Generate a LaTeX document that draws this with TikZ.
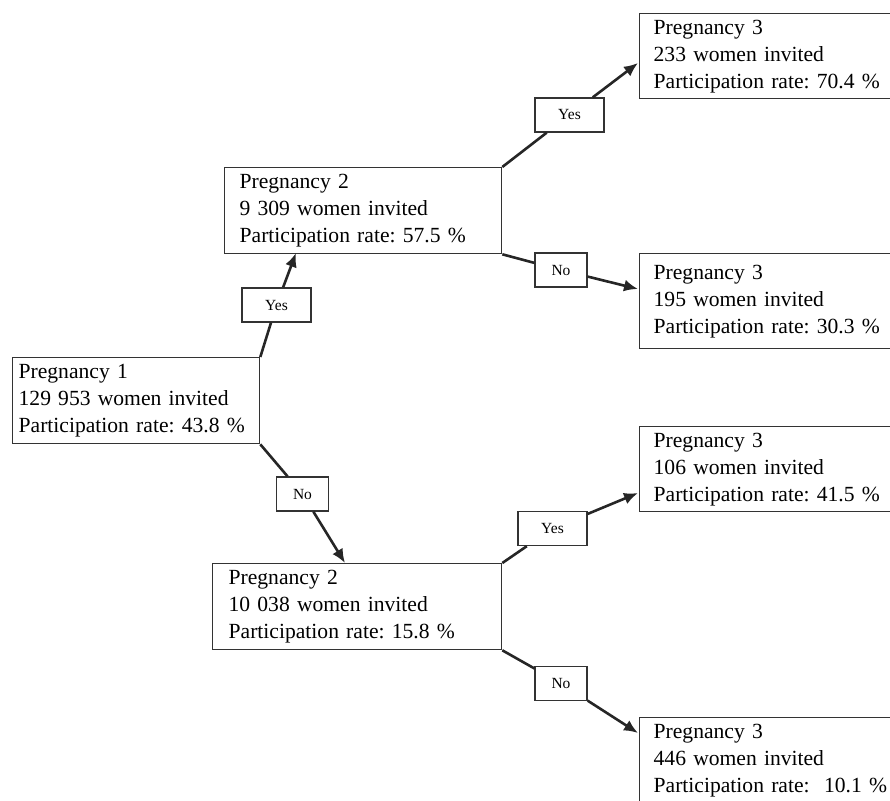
\documentclass[tikz,border=0pt]{standalone}
\usepackage{fontspec}
\setmainfont{Liberation Serif}
\usetikzlibrary{arrows.meta}
\frenchspacing

\begin{document}
\begin{tikzpicture}[x=1pt,y=-1pt,
  stage/.style={draw=black!80, line width=1.3pt, anchor=north west, align=left,
    inner xsep=#1, inner ysep=0pt, font=\fontsize{21.6}{27}\selectfont},
  stage/.default=15pt,
  answer/.style={draw=black!80, line width=1.3pt, fill=white, inner sep=0pt,
    minimum height=34pt, minimum width=#1, font=\fontsize{15.5}{18}\selectfont},
  conn/.style={draw=black!85, line width=2.6pt},
  arr/.style={conn, -{Latex[length=14pt,width=12pt]}}]
\useasboundingbox (0,0) rectangle (890,800);
\clip (0,0) rectangle (890,800);
% pregnancy boxes
\node[stage=6pt, text width=235pt, minimum height=86pt] (p1) at (12,357)
  {Pregnancy 1\\129 953 women invited\\Participation rate: 43.8 \%};
\node[stage, text width=247pt, minimum height=86pt] (p2a) at (224,167)
  {Pregnancy 2\\9 309 women invited\\Participation rate: 57.5 \%};
\node[stage=16pt, text width=257pt, minimum height=86pt] (p2b) at (212,563)
  {Pregnancy 2\\10 038 women invited\\Participation rate: 15.8 \%};
\node[stage=14pt, text width=250pt, minimum height=85pt] (p3a) at (639,13)
  {Pregnancy 3\\233 women invited\\Participation rate: 70.4 \%};
\node[stage=14pt, text width=250pt, minimum height=95pt] (p3b) at (639,253)
  {Pregnancy 3\\195 women invited\\Participation rate: 30.3 \%};
\node[stage=14pt, text width=250pt, minimum height=85pt] (p3c) at (639,426)
  {Pregnancy 3\\106 women invited\\Participation rate: 41.5 \%};
\node[stage=14pt, text width=250pt, minimum height=86pt] (p3d) at (639,717)
  {Pregnancy 3\\446 women invited\\Participation rate: ~10.1 \%};
% yes / no labels
\node[answer=69pt] (y1) at (276.5,305) {Yes};
\node[answer=52pt] (n1) at (302.5,494) {No};
\node[answer=69pt] (y2) at (569.5,115) {Yes};
\node[answer=52pt] (n2) at (561,270) {No};
\node[answer=69pt] (y3) at (552.5,528.5) {Yes};
\node[answer=52pt] (n3) at (561,683.5) {No};
% arrow tips
\coordinate (t1) at (296,253);
\coordinate (t2) at (345,563);
\coordinate (t3) at (638,63);
\coordinate (t4) at (638,289);
\coordinate (t5) at (638,493);
\coordinate (t6) at (638,733);
% connectors
\foreach \s/\l/\t in {p1.north east/y1/t1, p1.south east/n1/t2,
                      p2a.north east/y2/t3, p2a.south east/n2/t4,
                      p2b.north east/y3/t5, p2b.south east/n3/t6}{
  \draw[conn] (\s) -- (\l);
  \draw[arr] (\l) -- (\t);
}
\end{tikzpicture}
\end{document}
